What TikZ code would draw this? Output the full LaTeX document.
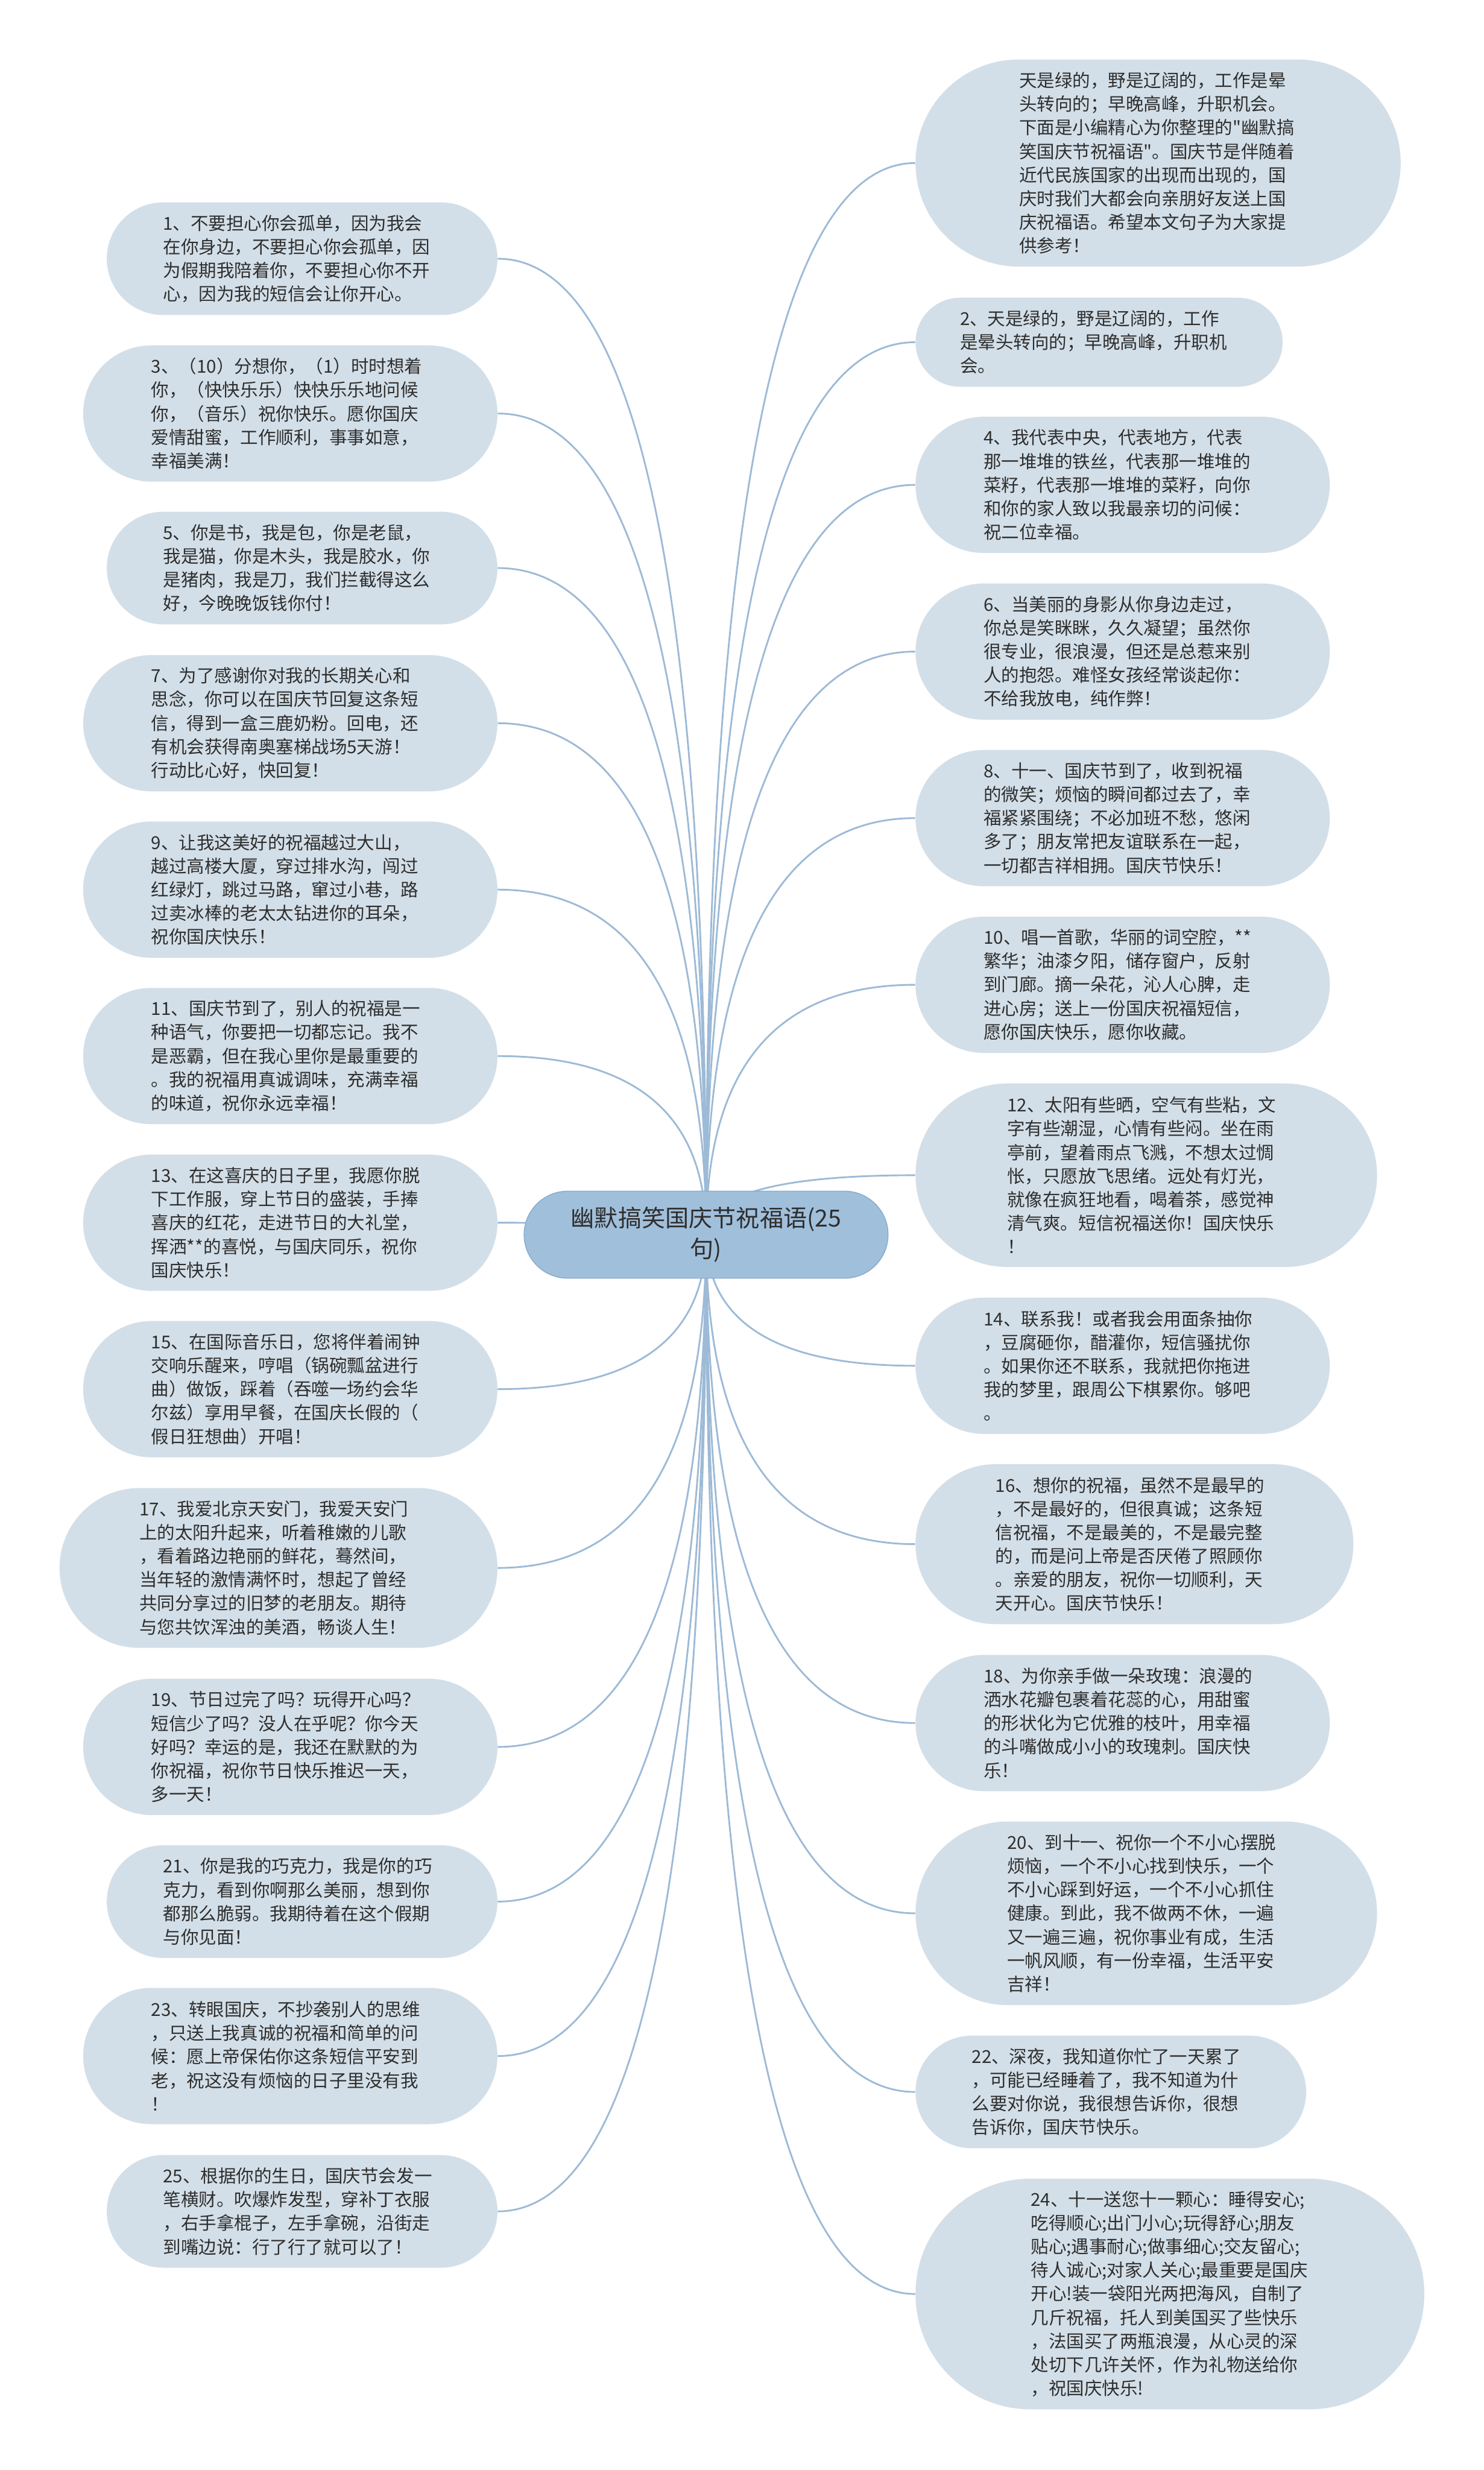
\documentclass[tikz,border=0pt]{standalone}
\usepackage{fontspec}
\setmainfont{Noto Sans CJK SC}[Ligatures=TeXOff]
\usetikzlibrary{calc, backgrounds}

\definecolor{leafbg}{HTML}{D3DFE8}
\definecolor{rootbg}{HTML}{A0BFDB}
\definecolor{rootline}{HTML}{8AADCF}
\definecolor{linkc}{HTML}{9DBAD6}
\definecolor{ink}{HTML}{2E2E2E}

\newcommand{\leaffont}{\fontsize{11.3pt}{15pt}\selectfont}
\newcommand{\rootfont}{\fontsize{15pt}{19.7pt}\selectfont}

\begin{document}
\begin{tikzpicture}[
    x=1pt, y=-1pt,
    leaf/.style={fill=leafbg, text=ink, font=\leaffont, align=left, inner sep=0pt,
        text width=176.5pt, minimum height={15pt*#1+11.5pt},
        minimum width={188pt+15pt*#1}, rounded corners={7.5pt*#1+5.75pt}},
    root/.style={fill=rootbg, draw=rootline, line width=0.6pt, text=ink, font=\rootfont,
        align=center, inner sep=0pt, text width=176pt,
        minimum width=231pt, minimum height=55.2pt, rounded corners=27.6pt},
    link/.style={draw=linkc, line width=1.1pt}
]

\useasboundingbox (0,0) rectangle (942,1568);

% ============ ROOT ============
\node[root] (root) at (448.25, 783.8) {幽默搞笑国庆节祝福语(25\\
句)};

% ============ LEFT BRANCH (odd numbers) ============
\node[leaf=4, anchor=east] (n1) at (316, 164.25) {1、不要担心你会孤单，因为我会\\
在你身边，不要担心你会孤单，因\\
为假期我陪着你，不要担心你不开\\
心，因为我的短信会让你开心。};

\node[leaf=5, anchor=east] (n3) at (316, 262.5) {3、（10）分想你，（1）时时想着\\
你，（快快乐乐）快快乐乐地问候\\
你，（音乐）祝你快乐。愿你国庆\\
爱情甜蜜，工作顺利，事事如意，\\
幸福美满！};

\node[leaf=4, anchor=east] (n5) at (316, 360.6) {5、你是书，我是包，你是老鼠，\\
我是猫，你是木头，我是胶水，你\\
是猪肉，我是刀，我们拦截得这么\\
好，今晚晚饭钱你付！};

\node[leaf=5, anchor=east] (n7) at (316, 459.1) {7、为了感谢你对我的长期关心和\\
思念，你可以在国庆节回复这条短\\
信，得到一盒三鹿奶粉。回电，还\\
有机会获得南奥塞梯战场5天游！\\
行动比心好，快回复！};

\node[leaf=5, anchor=east] (n9) at (316, 564.75) {9、让我这美好的祝福越过大山，\\
越过高楼大厦，穿过排水沟，闯过\\
红绿灯，跳过马路，窜过小巷，路\\
过卖冰棒的老太太钻进你的耳朵，\\
祝你国庆快乐！};

\node[leaf=5, anchor=east] (n11) at (316, 670.4) {11、国庆节到了，别人的祝福是一\\
种语气，你要把一切都忘记。我不\\
是恶霸，但在我心里你是最重要的\\
。我的祝福用真诚调味，充满幸福\\
的味道，祝你永远幸福！};

\node[leaf=5, anchor=east] (n13) at (316, 776.2) {13、在这喜庆的日子里，我愿你脱\\
下工作服，穿上节日的盛装，手捧\\
喜庆的红花，走进节日的大礼堂，\\
挥洒**的喜悦，与国庆同乐，祝你\\
国庆快乐！};

\node[leaf=5, anchor=east] (n15) at (316, 881.85) {15、在国际音乐日，您将伴着闹钟\\
交响乐醒来，哼唱（锅碗瓢盆进行\\
曲）做饭，踩着（吞噬一场约会华\\
尔兹）享用早餐，在国庆长假的（\\
假日狂想曲）开唱！};

\node[leaf=6, anchor=east] (n17) at (316, 995.35) {17、我爱北京天安门，我爱天安门\\
上的太阳升起来，听着稚嫩的儿歌\\
，看着路边艳丽的鲜花，蓦然间，\\
当年轻的激情满怀时，想起了曾经\\
共同分享过的旧梦的老朋友。期待\\
与您共饮浑浊的美酒，畅谈人生！};

\node[leaf=5, anchor=east] (n19) at (316, 1108.95) {19、节日过完了吗？玩得开心吗？\\
短信少了吗？没人在乎呢？你今天\\
好吗？幸运的是，我还在默默的为\\
你祝福，祝你节日快乐推迟一天，\\
多一天！};

\node[leaf=4, anchor=east] (n21) at (316, 1207.15) {21、你是我的巧克力，我是你的巧\\
克力，看到你啊那么美丽，想到你\\
都那么脆弱。我期待着在这个假期\\
与你见面！};

\node[leaf=5, anchor=east] (n23) at (316, 1305.2) {23、转眼国庆，不抄袭别人的思维\\
，只送上我真诚的祝福和简单的问\\
候：愿上帝保佑你这条短信平安到\\
老，祝这没有烦恼的日子里没有我\\
！};

\node[leaf=4, anchor=east] (n25) at (316, 1403.8) {25、根据你的生日，国庆节会发一\\
笔横财。吹爆炸发型，穿补丁衣服\\
，右手拿棍子，左手拿碗，沿街走\\
到嘴边说：行了行了就可以了！};

% ============ RIGHT BRANCH (intro + even numbers) ============
\node[leaf=8, anchor=west] (n0) at (581, 103.5) {天是绿的，野是辽阔的，工作是晕\\
头转向的；早晚高峰，升职机会。\\
下面是小编精心为你整理的"幽默搞\\
笑国庆节祝福语"。国庆节是伴随着\\
近代民族国家的出现而出现的，国\\
庆时我们大都会向亲朋好友送上国\\
庆祝福语。希望本文句子为大家提\\
供参考！};

\node[leaf=3, anchor=west] (n2) at (581, 217.25) {2、天是绿的，野是辽阔的，工作\\
是晕头转向的；早晚高峰，升职机\\
会。};

\node[leaf=5, anchor=west] (n4) at (581, 307.8) {4、我代表中央，代表地方，代表\\
那一堆堆的铁丝，代表那一堆堆的\\
菜籽，代表那一堆堆的菜籽，向你\\
和你的家人致以我最亲切的问候：\\
祝二位幸福。};

\node[leaf=5, anchor=west] (n6) at (581, 413.65) {6、当美丽的身影从你身边走过，\\
你总是笑眯眯，久久凝望；虽然你\\
很专业，很浪漫，但还是总惹来别\\
人的抱怨。难怪女孩经常谈起你：\\
不给我放电，纯作弊！};

\node[leaf=5, anchor=west] (n8) at (581, 519.35) {8、十一、国庆节到了，收到祝福\\
的微笑；烦恼的瞬间都过去了，幸\\
福紧紧围绕；不必加班不愁，悠闲\\
多了；朋友常把友谊联系在一起，\\
一切都吉祥相拥。国庆节快乐！};

\node[leaf=5, anchor=west] (n10) at (581, 625.15) {10、唱一首歌，华丽的词空腔，**\\
繁华；油漆夕阳，储存窗户，反射\\
到门廊。摘一朵花，沁人心脾，走\\
进心房；送上一份国庆祝福短信，\\
愿你国庆快乐，愿你收藏。};

\node[leaf=7, anchor=west] (n12) at (581, 746.05) {12、太阳有些晒，空气有些粘，文\\
字有些潮湿，心情有些闷。坐在雨\\
亭前，望着雨点飞溅，不想太过惆\\
怅，只愿放飞思绪。远处有灯光，\\
就像在疯狂地看，喝着茶，感觉神\\
清气爽。短信祝福送你！国庆快乐\\
！};

\node[leaf=5, anchor=west] (n14) at (581, 867) {14、联系我！或者我会用面条抽你\\
，豆腐砸你，醋灌你，短信骚扰你\\
。如果你还不联系，我就把你拖进\\
我的梦里，跟周公下棋累你。够吧\\
。};

\node[leaf=6, anchor=west] (n16) at (581, 980.25) {16、想你的祝福，虽然不是最早的\\
，不是最好的，但很真诚；这条短\\
信祝福，不是最美的，不是最完整\\
的，而是问上帝是否厌倦了照顾你\\
。亲爱的朋友，祝你一切顺利，天\\
天开心。国庆节快乐！};

\node[leaf=5, anchor=west] (n18) at (581, 1093.8) {18、为你亲手做一朵玫瑰：浪漫的\\
洒水花瓣包裹着花蕊的心，用甜蜜\\
的形状化为它优雅的枝叶，用幸福\\
的斗嘴做成小小的玫瑰刺。国庆快\\
乐！};

\node[leaf=7, anchor=west] (n20) at (581, 1214.6) {20、到十一、祝你一个不小心摆脱\\
烦恼，一个不小心找到快乐，一个\\
不小心踩到好运，一个不小心抓住\\
健康。到此，我不做两不休，一遍\\
又一遍三遍，祝你事业有成，生活\\
一帆风顺，有一份幸福，生活平安\\
吉祥！};

\node[leaf=4, anchor=west] (n22) at (581, 1328) {22、深夜，我知道你忙了一天累了\\
，可能已经睡着了，我不知道为什\\
么要对你说，我很想告诉你，很想\\
告诉你，国庆节快乐。};

\node[leaf=9, anchor=west] (n24) at (581, 1456.25) {24、十一送您十一颗心：睡得安心;\\
吃得顺心;出门小心;玩得舒心;朋友\\
贴心;遇事耐心;做事细心;交友留心;\\
待人诚心;对家人关心;最重要是国庆\\
开心!装一袋阳光两把海风，自制了\\
几斤祝福，托人到美国买了些快乐\\
，法国买了两瓶浪漫，从心灵的深\\
处切下几许关怀，作为礼物送给你\\
，祝国庆快乐!};

% ============ CONNECTORS ============
\begin{scope}[on background layer]
    \fill[white] (0,0) rectangle (942,1568);
    \foreach \n in {n1,n3,n5,n7,n9,n11,n13,n15,n17,n19,n21,n23,n25}
        \draw[link] (root.center)
            .. controls ($(root.center)!2/3!(root.center |- \n.east)$)
            and ($(\n.east)!2/3!(root.center |- \n.east)$) .. (\n.east);
    \foreach \n in {n0,n2,n4,n6,n8,n10,n12,n14,n16,n18,n20,n22,n24}
        \draw[link] (root.center)
            .. controls ($(root.center)!2/3!(root.center |- \n.west)$)
            and ($(\n.west)!2/3!(root.center |- \n.west)$) .. (\n.west);
\end{scope}

\end{tikzpicture}
\end{document}
